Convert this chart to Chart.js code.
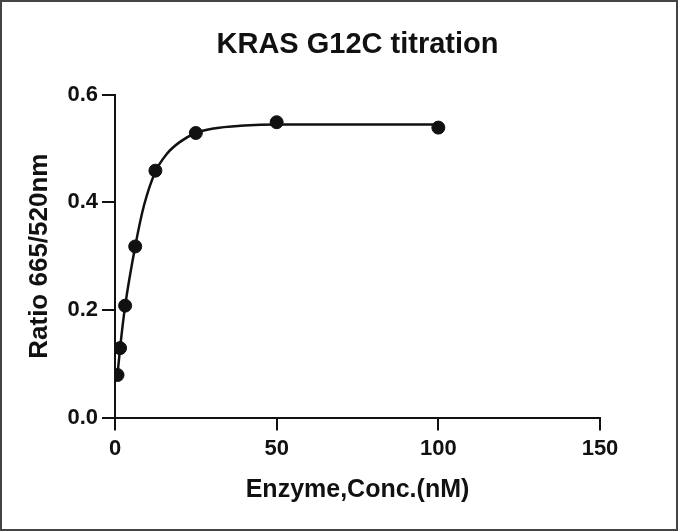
<!DOCTYPE html>
<html>
<head>
<meta charset="utf-8">
<script src="https://cdn.jsdelivr.net/npm/chart.js@4.4.1/dist/chart.umd.min.js"></script>
<style>
  html, body { margin: 0; padding: 0; background: #fff; }
  canvas { display: block; }
</style>
</head>
<body>
<canvas id="titration" width="678" height="531"></canvas>
<script>
// measured points (enzyme nM vs ratio 665/520)
const concNM = [0.78, 1.56, 3.125, 6.25, 12.5, 25, 50, 100];
const ratio = [0.079, 0.129, 0.208, 0.318, 0.459, 0.529, 0.549, 0.539];

// fitted curve
const fitX = [0.78, 1.56, 3.125, 6.25, 9, 12.5, 16, 20, 25, 30, 40, 50, 75, 100];
const fitY = [0.080, 0.128, 0.207, 0.318, 0.395, 0.457, 0.490, 0.512, 0.529, 0.537, 0.543, 0.545, 0.545, 0.545];

const xTicks = [0, 50, 100, 150];
const yTicks = [0.0, 0.2, 0.4, 0.6];

const FONT = '"Liberation Sans", Arial, sans-serif';
const INK = '#111';

// thin grey frame round the whole picture
const framePlugin = {
    id: 'frame',
    afterDraw(chart) {
        const ctx = chart.ctx;
        ctx.save();
        ctx.strokeStyle = '#444';
        ctx.lineWidth = 2;
        ctx.strokeRect(1, 1, chart.width - 2, chart.height - 2);
        ctx.restore();
    }
};

new Chart(document.getElementById('titration'), {
    type: 'scatter',
    data: {
        datasets: [{
            label: 'fit',
            data: fitX.map((x, i) => ({ x: x, y: fitY[i] })),
            showLine: true,
            borderColor: INK,
            borderWidth: 2.5,
            pointRadius: 0,
            cubicInterpolationMode: 'monotone',
            order: 2
        }, {
            label: 'KRAS G12C',
            data: concNM.map((x, i) => ({ x: x, y: ratio[i] })),
            backgroundColor: INK,
            borderColor: INK,
            pointRadius: 6.5,
            showLine: false,
            order: 1
        }]
    },
    options: {
        responsive: false,
        animation: false,
        devicePixelRatio: 1,
        layout: { padding: { left: 0, right: 78, top: 0, bottom: 0 } },
        plugins: {
            legend: { display: false },
            tooltip: { enabled: false },
            title: {
                display: true,
                fullSize: false,
                text: 'KRAS G12C titration',
                color: INK,
                font: { family: FONT, size: 29, weight: 'bold' },
                padding: { top: 28, bottom: 32 }
            }
        },
        scales: {
            x: {
                type: 'linear',
                min: 0,
                max: 150,
                afterBuildTicks: (scale) => { scale.ticks = xTicks.map(v => ({ value: v })); },
                afterFit: (scale) => { scale.height = 113.5; },
                grid: { display: true, drawOnChartArea: false, drawTicks: true, tickLength: 13, color: INK, lineWidth: 2 },
                border: { display: true, color: INK, width: 2 },
                ticks: {
                    color: INK,
                    padding: 5,
                    maxRotation: 0,
                    autoSkip: false,
                    font: { family: FONT, size: 22, weight: 'bold' }
                },
                title: {
                    display: true,
                    text: 'Enzyme,Conc.(nM)',
                    color: INK,
                    font: { family: FONT, size: 25, weight: 'bold' },
                    padding: { top: 0, bottom: 26 }
                }
            },
            y: {
                type: 'linear',
                min: 0,
                max: 0.6,
                afterBuildTicks: (scale) => { scale.ticks = yTicks.map(v => ({ value: v })); },
                afterFit: (scale) => { scale.width = 115; },
                grid: { display: true, drawOnChartArea: false, drawTicks: true, tickLength: 13, color: INK, lineWidth: 2 },
                border: { display: true, color: INK, width: 2 },
                ticks: {
                    color: INK,
                    padding: 4,
                    autoSkip: false,
                    font: { family: FONT, size: 22, weight: 'bold' },
                    callback: (v) => Number(v).toFixed(1)
                },
                title: {
                    display: true,
                    text: 'Ratio 665/520nm',
                    color: INK,
                    font: { family: FONT, size: 26, weight: 'bold' },
                    padding: { top: 24, bottom: 0 }
                }
            }
        }
    },
    plugins: [framePlugin]
});
</script>
</body>
</html>
